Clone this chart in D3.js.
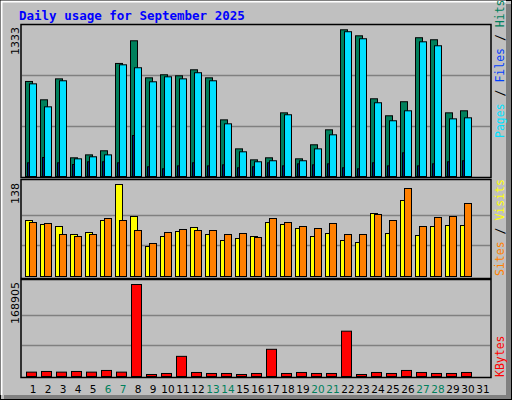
<!DOCTYPE html>
<html><head><meta charset="utf-8">
<script src="https://cdn.jsdelivr.net/npm/d3@7"></script>
<style>body{margin:0;background:#fff}</style>
</head><body>
<svg id="chart" width="512" height="400"></svg>
<script>
// daily values
var days = d3.range(1, 32);
var weekend = [6, 7, 13, 14, 20, 21, 27, 28];
var hits  = [839,677,862,165,191,227,998,1198,871,898,889,942,871,500,244,147,165,562,156,280,412,1295,1242,686,536,660,1225,1207,562,580,0];
var files = [818,615,845,156,174,191,986,960,836,880,862,916,845,465,218,130,139,545,139,244,368,1278,1216,651,492,580,1189,1154,509,518,0];
var pages = [121,168,121,106,130,130,121,362,86,68,94,121,94,103,77,86,121,94,112,103,112,77,68,121,94,209,94,112,130,139,0];
var visits = [84,78,75,63,66,84,138,90,45,60,67.5,73.5,63,54,57,60,81,78,72,60,64.5,54,51,94.5,64.5,114,61.5,75,76.5,76.5,0];
var sites  = [81,79.5,63,60,63,87,84,69,49.5,66,70.5,69,69,63,64.5,58.5,87,81,75,72,79.5,63,63,93,84,132,75,88.5,90,109.5,0];
var kbytes = [8013,9246,8013,9246,8013,11095,8013,168905,3698,5548,36984,7397,5548,5548,3698,5548,49928,5548,7397,5548,5548,83214,3698,7397,5548,11095,7397,5548,5548,7397,0];
var maxHits = 1333, maxVisits = 138, maxKb = 168905;

var svg = d3.select("#chart");
var mono = "DejaVu Sans Mono, monospace";

// frame
svg.append("rect").attr("x",0.5).attr("y",0.5).attr("width",511).attr("height",399).attr("fill","#c0c0c0").attr("stroke","black");
svg.append("rect").attr("x",506).attr("y",4).attr("width",5).attr("height",395).attr("fill","#808080");
svg.append("rect").attr("x",4).attr("y",395).attr("width",507).attr("height",4).attr("fill","#808080");
svg.append("path").attr("d","M1.5,395V1.5H506").attr("stroke","white").attr("fill","none").attr("stroke-width",2);

svg.append("text").attr("x",19).attr("y",20).text("Daily usage for September 2025")
    .attr("fill","#0000ff").attr("font-family",mono).attr("font-weight","bold").attr("font-size","12.5px");

var x = d3.scaleBand().domain(days).range([25, 490]);

var yTop = d3.scaleLinear().domain([0, maxHits]).range([176, 25]);
var yMid = d3.scaleLinear().domain([0, maxVisits]).range([276, 184]);
var yBot = d3.scaleLinear().domain([0, maxKb]).range([376, 284]);

// panels
[[21,25,178],[21,180,279],[21,280,378]].forEach(function(p){
    svg.append("rect").attr("x",p[0]).attr("y",p[1]-0.5).attr("width",470).attr("height",p[2]-p[1])
        .attr("fill","#c0c0c0").attr("stroke","black").attr("stroke-width",1.5);
});
function grid(y, max){
    [max/3, max*2/3].forEach(function(v){
        svg.append("line").attr("x1",22).attr("x2",490).attr("y1",Math.round(y(v))+0.5).attr("y2",Math.round(y(v))+0.5)
            .attr("stroke","#808080").attr("stroke-width",1.5);
    });
}
grid(yTop, maxHits); grid(yMid, maxVisits); grid(yBot, maxKb);

function bars(data, y, dx, w, color){
    svg.append("g").selectAll("rect").data(days.filter(function(d){return data[d-1] > 0;})).enter()
        .append("rect")
        .attr("x", function(d){ return x(d) + dx + 0.5; })
        .attr("y", function(d){ return y(data[d-1]) + 0.5; })
        .attr("width", w)
        .attr("height", function(d){ return y(0) - y(data[d-1]); })
        .attr("fill", color).attr("stroke","black").attr("stroke-width",1);
}
bars(hits, yTop, 0, 7, "#00805c");
bars(files, yTop, 4, 7, "#00e0ff");
bars(pages, yTop, 2, 1.5, "#0040ff");
bars(visits, yMid, 0, 7, "#ffff00");
bars(sites, yMid, 4, 7, "#ff8000");
bars(kbytes, yBot, 1, 10, "#ff0000");

// max labels
function maxLabel(txt, y){
    svg.append("text").attr("transform","translate(19," + y + ") rotate(-90)").attr("text-anchor","end")
        .attr("font-family","DejaVu Sans, sans-serif").attr("font-size","11px").attr("fill","black").text(txt);
}
maxLabel(maxHits, 27); maxLabel(maxVisits, 183); maxLabel(maxKb, 282);

// right legends
function legend(parts, yStart){
    var t = svg.append("text").attr("transform","translate(504," + yStart + ") rotate(-90)")
        .attr("font-family",mono).attr("font-size","11.5px");
    parts.forEach(function(p){ t.append("tspan").attr("fill",p[1]).text(p[0]); });
}
legend([["Pages","#00e0ff"],[" / ","black"],["Files","#0040ff"],[" / ","black"],["Hits","#00805c"]], 138);
legend([["Sites","#ff8000"],[" / ","black"],["Visits","#ffff00"]], 276);
legend([["KBytes","#ff0000"]], 377);

// day labels
svg.append("g").selectAll("text").data(days).enter().append("text")
    .attr("x", function(d){ return x(d) + 8; }).attr("y", 393)
    .attr("text-anchor","middle").attr("font-family","DejaVu Sans, sans-serif").attr("font-size","10.5px")
    .attr("fill", function(d){ return weekend.indexOf(d) >= 0 ? "#00805c" : "black"; })
    .text(function(d){ return d; });
</script>
</body></html>
